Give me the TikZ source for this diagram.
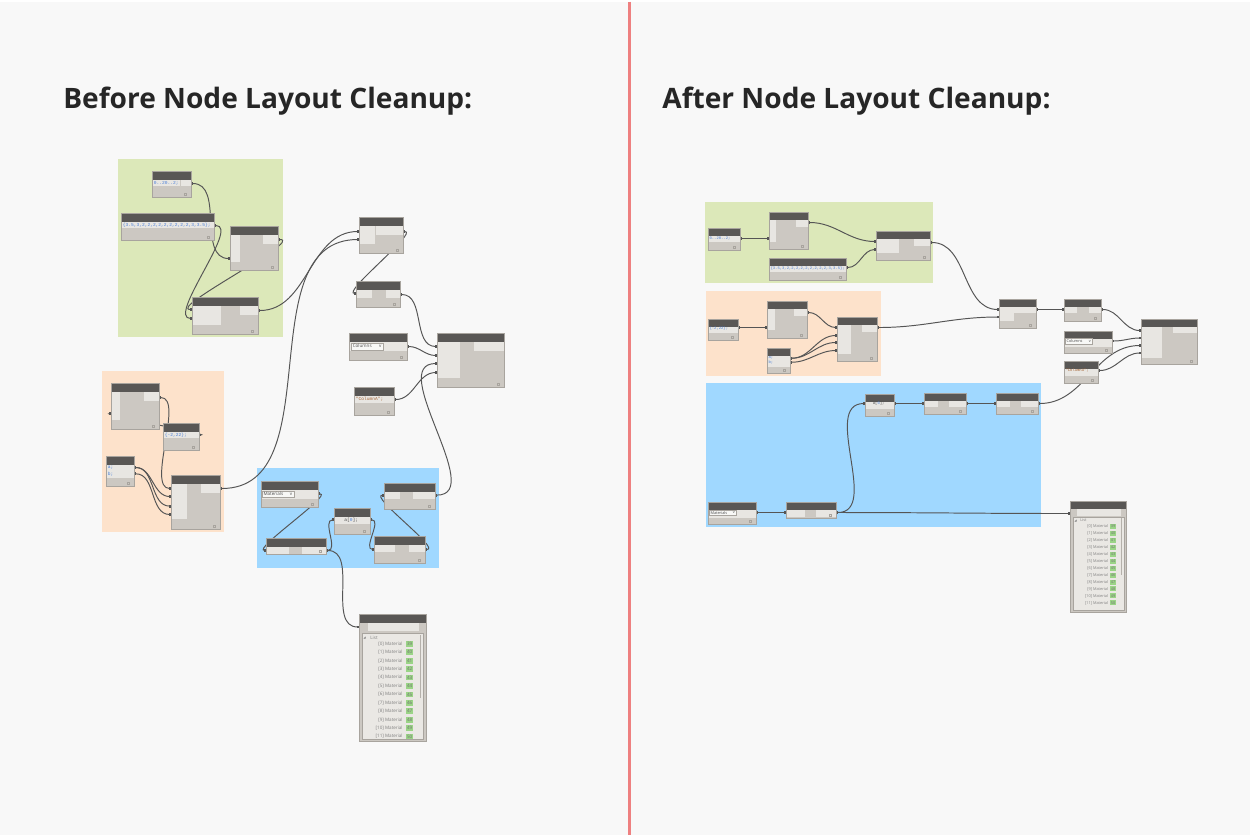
\documentclass[tikz,border=0pt]{standalone}
\usepackage{fontspec}
\setmainfont{Open Sans}
\newfontfamily\codefont{Liberation Mono}
\usetikzlibrary{arrows.meta}
\definecolor{bgc}{HTML}{F8F8F8}
\definecolor{divc}{HTML}{EE8080}
\definecolor{grpgreen}{HTML}{DCE8B9}
\definecolor{grporange}{HTML}{FDE2CB}
\definecolor{grpblue}{HTML}{A0D8FF}
\definecolor{dyhead}{HTML}{595755}
\definecolor{dybody}{HTML}{CCC8C2}
\definecolor{dypanel}{HTML}{E8E6E2}
\definecolor{dyedge}{HTML}{A8A49E}
\definecolor{dywire}{HTML}{555555}
\definecolor{dyblue}{HTML}{4C80D8}
\definecolor{dystr}{HTML}{A8683A}
\definecolor{dygreen}{HTML}{9AD486}
\definecolor{dylist}{HTML}{EAE8E4}
\definecolor{dyscroll}{HTML}{B5B1AB}
\definecolor{titlec}{HTML}{262626}
\newcommand\dyfs[1]{\fontsize{#1}{#1}\selectfont}
\pgfdeclarelayer{groups}
\pgfdeclarelayer{wires}
\pgfsetlayers{groups,wires,main}

\begin{document}
\begin{tikzpicture}[x=0.02cm, y=-0.02cm]
  \tikzset{hdr/.store in=\hdr, hdr=9, fs/.store in=\fsz, fs=2.6,
    sz/.style 2 args={minimum width=#1*0.02cm, minimum height=#2*0.02cm},
    dyn/.style n args={4}{draw=dyedge, fill=dybody, line width=0.3pt, inner sep=0pt, anchor=north west,
      path picture={
        \fill[dyhead] (path picture bounding box.north west) rectangle ([shift={(0,\hdr)}]path picture bounding box.north east);
        \fill[dypanel] ([shift={(0,\hdr)}]path picture bounding box.north west) rectangle +(#1,#2);
        \fill[dypanel] ([shift={(0,\hdr)}]path picture bounding box.north east) rectangle +(-#3,#4);
        \draw[dyedge, line width=0.25pt] ([shift={(-7,-2)}]path picture bounding box.south east) rectangle +(2,-2);
      }},
    wire/.style={draw=dywire, line width=0.55pt, out=0, in=180,
      {Rectangle[length=1pt,width=1.5pt]}-{Rectangle[length=1pt,width=1.5pt]}},
    code/.style={font=\codefont\dyfs{\fsz}, text=dyblue, inner sep=0pt, anchor=west},
    strc/.style={code, text=dystr},
    plain/.style={font=\dyfs{\fsz}, text=black!70, inner sep=0pt, anchor=west},
    drop/.style={draw=dyedge, line width=0.2pt, fill=white!70!dypanel, inner sep=0pt, anchor=north west},
    wlab/.style={plain, anchor=east, text=black!50},
    wval/.style={fill=dygreen, inner sep=0pt, font=\dyfs{\fsz}, text=black!55},
    title/.style={font=\fontsize{16}{19}\selectfont\bfseries, text=titlec, anchor=base west, inner sep=0pt}}

%% Background, groups
  \begin{pgfonlayer}{groups}
    \fill[bgc] (0,0) rectangle (1250,833);
    \fill[grpgreen] (118,157) rectangle (283,335);
    \fill[grporange] (102,369) rectangle (224,530);
    \fill[grpblue] (257,466) rectangle (439,566);
    \fill[grpgreen] (705,200) rectangle (933,281);
    \fill[grporange] (706,289) rectangle (881,374);
    \fill[grpblue] (706,381) rectangle (1041,525);
    \draw[divc, line width=0.06cm] (629,0) -- (629,833);
  \end{pgfonlayer}

  \node[title] (t1) at (63,107) {Before Node Layout Cleanup:};
  \node[title] (t2) at (662,107) {After Node Layout Cleanup:};

%% Before
  \node[dyn={28}{6.5}{10}{6.5}, sz={39}{26}] (gA) at (152,169) {};
  \node[code] (gA-c) at ([shift={(1.5,12.5)}]gA.north west) {0..20..2;};
  \node[dyn={79}{6.5}{14}{6.5}, sz={93}{27}] (gB) at (121,211) {};
  \node[code] (gB-c) at ([shift={(1.5,12.8)}]gB.north west) {\{3.5,3,2,2,2,2,2,2,2,2,2,3,3.5\};};
  \node[dyn={10}{27}{15}{9}, sz={48}{44}] (gC) at (230,224) {};
  \node[dyn={29}{19}{18}{9}, sz={66}{37}] (gD) at (192,295) {};

  \node[dyn={9}{28}{15}{9}, sz={48}{46}] (oA) at (111,381) {};
  \node[dyn={26}{6.5}{10}{6.5}, sz={36}{27}] (oB) at (163,421) {};
  \node[code] (oB-c) at ([shift={(1.5,12.5)}]oB.north west) {\{-2,22\};};
  \node[dyn={18}{13}{10}{13}, sz={28}{30}] (oC) at (106,454) {};
  \node[code] (oC-a) at ([shift={(1.5,12)}]oC.north west) {a;};
  \node[code] (oC-b) at ([shift={(1.5,18.3)}]oC.north west) {b;};
  \node[dyn={16}{35}{19}{9}, sz={49}{54}] (oD) at (171,473) {};

  \node[dyn={16}{18}{27}{9}, sz={44}{36}] (rA) at (359,215) {};
  \node[dyn={16}{8}{14}{8}, sz={44}{26}] (rB) at (356,279) {};
  \node[dyn={58}{9}{0}{0}, sz={58}{27}] (rC) at (349,331) {};
  \node[drop, sz={32}{7}] (rC-d) at ([shift={(2,10)}]rC.north west) {};
  \node[plain] (rC-t) at ([shift={(1.5,0)}]rC-d.west) {Columns};
  \node[plain, anchor=east] (rC-v) at ([shift={(-1.5,0)}]rC-d.east) {v};
  \node[dyn={30}{7}{10}{7}, sz={40}{28}] (rD) at (354,385) {};
  \node[strc] (rD-c) at ([shift={(1.5,13)}]rD.north west) {"ColumnA";};
  \node[dyn={23}{36}{30}{9}, sz={67}{54}] (rE) at (437,331) {};

  \node[dyn={57}{9}{0}{0}, sz={57}{26}] (bA) at (261,479) {};
  \node[drop, sz={32}{6.5}] (bA-d) at ([shift={(0.7,10.3)}]bA.north west) {};
  \node[plain] (bA-t) at ([shift={(1.5,0)}]bA-d.west) {Materials};
  \node[plain, anchor=east] (bA-v) at ([shift={(-1.5,0)}]bA-d.east) {v};
  \node[dyn={23}{7}{24}{7}, sz={60}{16}] (bB) at (266,536) {};
  \node[dyn={36}{7}{0}{0}, sz={36}{26}] (bC) at (334,506) {};
  \node[code] (bC-c) at ([shift={(10,12.5)}]bC.north west) {\textcolor{black!70}{a[}0\textcolor{black!70}{];}};
  \node[dyn={16}{7}{22}{7}, sz={51}{26}] (bD) at (384,481) {};
  \node[dyn={21}{7}{16}{7}, sz={51}{27}] (bE) at (374,534) {};

  \node[dyn={0}{0}{0}{0}, sz={67}{127}] (w1) at (359,612) {};
  \fill[dypanel] ([shift={(9,9.5)}]w1.north west) rectangle ([shift={(-8,17.5)}]w1.north east);
  \filldraw[fill=dylist, draw=dyedge, line width=0.2pt] ([shift={(3,20)}]w1.north west) rectangle ([shift={(-3,-2)}]w1.south east);
  \fill[dyscroll] ([shift={(-6.7,21.3)}]w1.north east) rectangle +(1.5,63);
  \fill[black!55] ([shift={(4.5,25.2)}]w1.north west) -- +(2.2,0) -- +(2.2,-2.2) -- cycle;
  \node[plain, text=black!50] (w1-h) at ([shift={(11,24)}]w1.north west) {List};
  \foreach \i in {0,...,11}{
    \pgfmathtruncatemacro\mval{39+\i}
    \node[wlab] (w1-l\i) at ([shift={(44,{30.3+8.43*\i})}]w1.north west) {[\i] Material};
    \node[wval, sz={6.7}{5.7}] (w1-v\i) at ([shift={(50.7,{30.3+8.43*\i})}]w1.north west) {\mval};
  }

%% After
  \begin{scope}[hdr=8, fs=2.2]
  \node[dyn={22}{6}{10}{6}, sz={32}{22}] (GA) at (708,226) {};
  \node[code] (GA-c) at ([shift={(1.2,10.8)}]GA.north west) {0..20..2;};
  \node[dyn={7}{22}{12}{7}, sz={39}{37}] (GB) at (769,210) {};
  \node[dyn={67}{6}{10}{6}, sz={77}{22}] (GC) at (769,256) {};
  \node[code] (GC-c) at ([shift={(1.2,10.8)}]GC.north west) {\{3.5,3,2,2,2,2,2,2,2,2,2,3,3.5\};};
  \node[dyn={23}{14}{16}{7}, sz={54}{29}] (GD) at (876,229) {};

  \node[dyn={22}{6}{8}{6}, sz={30}{21}] (OA) at (708,317) {};
  \node[code] (OA-c) at ([shift={(1.2,9.5)}]OA.north west) {\{-2,22\};};
  \node[dyn={8}{21}{13}{7}, sz={40}{37}] (OB) at (767,299) {};
  \node[dyn={15}{11}{8}{11}, sz={23}{25}] (OC) at (767,346) {};
  \node[code] (OC-a) at ([shift={(1.2,10.7)}]OC.north west) {a;};
  \node[code] (OC-b) at ([shift={(1.2,14.7)}]OC.north west) {b;};
  \node[dyn={14}{29}{15}{7}, sz={40}{44}] (OD) at (837,315) {};

  \node[dyn={15}{14}{22}{6}, sz={37}{29}] (RA) at (999,297) {};
  \node[dyn={13}{6}{12}{6}, sz={37}{22}] (RB) at (1064,297) {};
  \node[dyn={48}{8}{0}{0}, sz={48}{22}] (RC) at (1064,329) {};
  \node[drop, sz={27}{5.5}] (RC-d) at ([shift={(1,7.8)}]RC.north west) {};
  \node[plain] (RC-t) at ([shift={(1.2,0)}]RC-d.west) {Columns};
  \node[plain, anchor=east] (RC-v) at ([shift={(-1.2,0)}]RC-d.east) {v};
  \node[dyn={26}{7}{8}{7}, sz={34}{22}] (RD) at (1064,359) {};
  \node[strc] (RD-c) at ([shift={(1.2,10.3)}]RD.north west) {"ColumnA";};
  \node[dyn={21}{31}{24}{6}, sz={56}{45}] (RE) at (1141,317) {};

  \node[dyn={48}{8}{0}{0}, sz={48}{22}] (BA) at (708,500) {};
  \node[drop, sz={27}{5.5}] (BA-d) at ([shift={(1,8.3)}]BA.north west) {};
  \node[plain] (BA-t) at ([shift={(1.2,0)}]BA-d.west) {Materials};
  \node[plain, anchor=east] (BA-v) at ([shift={(-1.2,0)}]BA-d.east) {v};
  \node[dyn={19}{7}{20}{7}, sz={50}{16}] (BB) at (786,500) {};
  \node[dyn={29}{7}{0}{0}, sz={29}{22}] (BC) at (865,392) {};
  \node[code] (BC-c) at ([shift={(7.5,10.3)}]BC.north west) {\textcolor{black!70}{a[}0\textcolor{black!70}{];}};
  \node[dyn={14}{6}{17}{6}, sz={42}{21}] (BD) at (924,391) {};
  \node[dyn={14}{6}{17}{6}, sz={42}{21}] (BE) at (996,391) {};

  \node[dyn={0}{0}{0}{0}, sz={56}{111}] (w2) at (1070,499) {};
  \fill[dypanel] ([shift={(7,8.3)}]w2.north west) rectangle ([shift={(-6,15.7)}]w2.north east);
  \filldraw[fill=dylist, draw=dyedge, line width=0.2pt] ([shift={(2.7,16.7)}]w2.north west) rectangle ([shift={(-2.4,-1.7)}]w2.south east);
  \fill[dyscroll] ([shift={(-6,17.5)}]w2.north east) rectangle +(1.5,57);
  \fill[black!55] ([shift={(4.5,21)}]w2.north west) -- +(2,0) -- +(2,-2) -- cycle;
  \node[plain, text=black!50] (w2-h) at ([shift={(10,20)}]w2.north west) {List};
  \foreach \i in {0,...,11}{
    \pgfmathtruncatemacro\mval{39+\i}
    \node[wlab] (w2-l\i) at ([shift={(38.3,{26+6.94*\i})}]w2.north west) {[\i] Material};
    \node[wval, sz={6}{5}] (w2-v\i) at ([shift={(43,{26+6.94*\i})}]w2.north west) {\mval};
  }
  \end{scope}

%% Wires
  \begin{pgfonlayer}{wires}
    \path ([shift={(0,13)}]gA.north east) edge[wire] ([shift={(0,33)}]gC.north west);
    \path ([shift={(0,13)}]gB.north east) edge[wire, looseness=0.7] ([shift={(0,22)}]gD.north west);
    \path ([shift={(0,14)}]gC.north east) edge[wire, looseness=0.6] ([shift={(0,13)}]gD.north west);
    \path ([shift={(0,14)}]gD.north east) edge[wire] ([shift={(0,15)}]rA.north west);
    \path ([shift={(0,14)}]oD.north east) edge[wire] ([shift={(0,23)}]rA.north west);
    \path ([shift={(0,12.5)}]oB.north east) edge[wire, looseness=0.35] ([shift={(0,31)}]oA.north west);
    \path ([shift={(0,15)}]oA.north east) edge[wire, looseness=0.7] ([shift={(0,14)}]oD.north west);
    \path ([shift={(0,12)}]oC.north east) edge[wire] ([shift={(0,22)}]oD.north west);
    \path ([shift={(0,12)}]oC.north east) edge[wire] ([shift={(0,31.6)}]oD.north west);
    \path ([shift={(0,18.3)}]oC.north east) edge[wire] ([shift={(0,40)}]oD.north west);
    \path ([shift={(0,15)}]rA.north east) edge[wire, looseness=0.5] ([shift={(0,13)}]rB.north west);
    \path ([shift={(0,14)}]rB.north east) edge[wire] ([shift={(0,14)}]rE.north west);
    \path ([shift={(0,14)}]rC.north east) edge[wire] ([shift={(0,23)}]rE.north west);
    \path ([shift={(0,12.6)}]bD.north east) edge[wire] ([shift={(0,31)}]rE.north west);
    \path ([shift={(0,13)}]rD.north east) edge[wire] ([shift={(0,40)}]rE.north west);
    \path ([shift={(0,13.3)}]bA.north east) edge[wire, looseness=0.5] ([shift={(0,13)}]bB.north west);
    \path ([shift={(0,13)}]bB.north east) edge[wire] ([shift={(0,12.3)}]bC.north west);
    \path ([shift={(0,13)}]bB.north east) edge[wire] ([shift={(0,13.5)}]w1.north west);
    \path ([shift={(0,12.3)}]bC.north east) edge[wire] ([shift={(0,14)}]bE.north west);
    \path ([shift={(0,14)}]bE.north east) edge[wire, looseness=0.6] ([shift={(0,12.6)}]bD.north west);

    \path ([shift={(0,11)}]GA.north east) edge[wire] ([shift={(0,27)}]GB.north west);
    \path ([shift={(0,11)}]GB.north east) edge[wire] ([shift={(0,11)}]GD.north west);
    \path ([shift={(0,10)}]GC.north east) edge[wire] ([shift={(0,19)}]GD.north west);
    \path ([shift={(0,12)}]GD.north east) edge[wire] ([shift={(0,11)}]RA.north west);
    \path ([shift={(0,9)}]OA.north east) edge[wire] ([shift={(0,27)}]OB.north west);
    \path ([shift={(0,12)}]OB.north east) edge[wire] ([shift={(0,11)}]OD.north west);
    \path ([shift={(0,10.7)}]OC.north east) edge[wire] ([shift={(0,19)}]OD.north west);
    \path ([shift={(0,10.7)}]OC.north east) edge[wire] ([shift={(0,26)}]OD.north west);
    \path ([shift={(0,14.7)}]OC.north east) edge[wire] ([shift={(0,34)}]OD.north west);
    \path ([shift={(0,11)}]OD.north east) edge[wire] ([shift={(0,18.5)}]RA.north west);
    \path ([shift={(0,11)}]RA.north east) edge[wire] ([shift={(0,11)}]RB.north west);
    \path ([shift={(0,11)}]RB.north east) edge[wire] ([shift={(0,12)}]RE.north west);
    \path ([shift={(0,10.5)}]RC.north east) edge[wire] ([shift={(0,19.5)}]RE.north west);
    \path ([shift={(0,11)}]BE.north east) edge[wire] ([shift={(0,27)}]RE.north west);
    \path ([shift={(0,10)}]RD.north east) edge[wire] ([shift={(0,34.5)}]RE.north west);
    \path ([shift={(0,11)}]BA.north east) edge[wire] ([shift={(0,11)}]BB.north west);
    \path ([shift={(0,11)}]BB.north east) edge[wire] ([shift={(0,10)}]BC.north west);
    \path ([shift={(0,11)}]BB.north east) edge[wire] ([shift={(0,13)}]w2.north west);
    \path ([shift={(0,10)}]BC.north east) edge[wire] ([shift={(0,11)}]BD.north west);
    \path ([shift={(0,11)}]BD.north east) edge[wire] ([shift={(0,11)}]BE.north west);
  \end{pgfonlayer}
\end{tikzpicture}
\end{document}
